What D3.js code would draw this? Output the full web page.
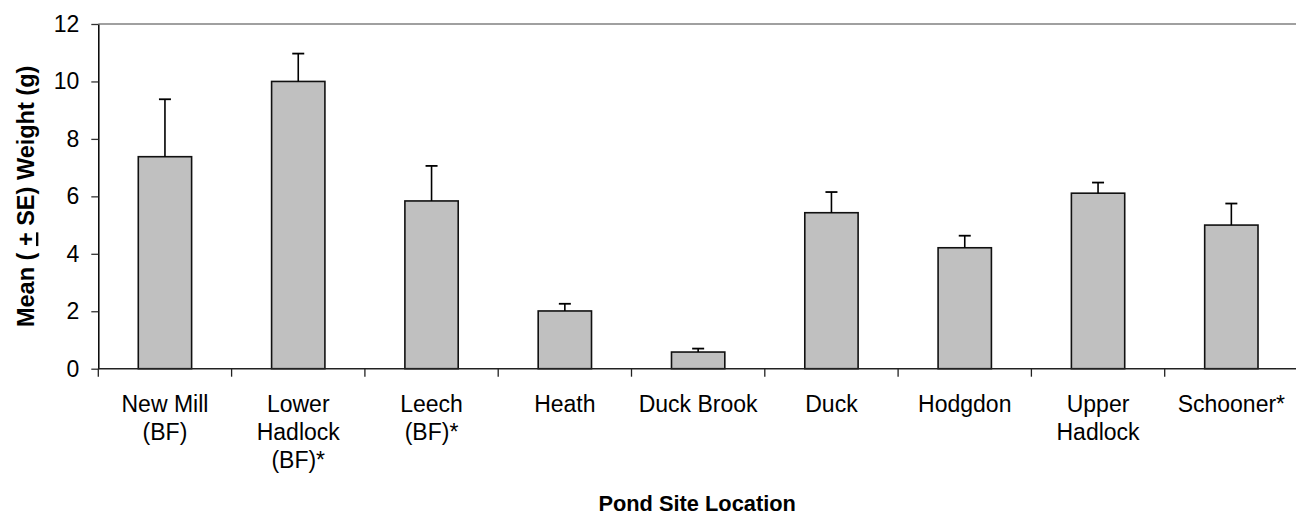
<!DOCTYPE html>
<html>
<head>
<meta charset="utf-8">
<script src="https://cdn.jsdelivr.net/npm/d3@7"></script>
<style>
  body { margin: 0; background: #fff; }
  svg { display: block; font-family: "Liberation Sans", Arial, sans-serif; }
</style>
</head>
<body>
<svg></svg>
<script>
// pond sites, weights
var sites = [
    ['New Mill', '(BF)'],
    ['Lower', 'Hadlock', '(BF)*'],
    ['Leech', '(BF)*'],
    ['Heath'],
    ['Duck Brook'],
    ['Duck'],
    ['Hodgdon'],
    ['Upper', 'Hadlock'],
    ['Schooner*']
];
var means = [7.38, 10.0, 5.84, 2.01, 0.58, 5.43, 4.21, 6.11, 5.00];
var se = [2.0, 0.97, 1.22, 0.25, 0.12, 0.72, 0.42, 0.37, 0.75];
var yTicks = [0, 2, 4, 6, 8, 10, 12];

var svgWidth = 1296,
    svgHeight = 517;
// note: "top" is taken by window.top
var plotLeft = 98.3,
    plotTop = 24,
    plotBottom = 368.7,
    step = 133.3;

var svg = d3.select('svg')
    .attr('width', svgWidth)
    .attr('height', svgHeight);

var names = sites.map(function (d) { return d.join(' '); });

var x = d3.scaleBand()
    .domain(names)
    .range([plotLeft, plotLeft + step * names.length])
    .paddingInner(0.6)
    .paddingOuter(0.3);

var y = d3.scaleLinear()
    .domain([0, 12])
    .range([plotBottom, plotTop]);

// top line at 12
svg.append('line')
    .attr('x1', plotLeft)
    .attr('x2', svgWidth)
    .attr('y1', y(12))
    .attr('y2', y(12))
    .attr('stroke', '#808080')
    .attr('stroke-width', 1.5);

// y axis
var yAxis = svg.append('g')
    .attr('transform', 'translate(' + plotLeft + ',0)')
    .call(d3.axisLeft(y).tickValues(yTicks).tickSize(7).tickPadding(12).tickSizeOuter(0));
yAxis.select('.domain').attr('stroke', '#000').attr('stroke-width', 1.5);
yAxis.selectAll('.tick line').attr('stroke', '#333').attr('stroke-width', 1.3);
yAxis.selectAll('.tick text')
    .attr('font-size', 23)
    .attr('font-family', '"Liberation Sans", Arial, sans-serif')
    .attr('fill', '#000');

// bars
svg.selectAll('.bar')
    .data(means)
    .enter()
    .append('rect')
    .attr('class', 'bar')
    .attr('x', function (d, i) { return x(names[i]); })
    .attr('y', function (d) { return y(d); })
    .attr('width', x.bandwidth())
    .attr('height', function (d) { return y(0) - y(d); })
    .attr('fill', '#c0c0c0')
    .attr('stroke', '#111')
    .attr('stroke-width', 1.6);

// error bars (upper only)
var err = svg.selectAll('.err')
    .data(means)
    .enter()
    .append('g')
    .attr('class', 'err');
err.append('line')
    .attr('x1', function (d, i) { return x(names[i]) + x.bandwidth() / 2; })
    .attr('x2', function (d, i) { return x(names[i]) + x.bandwidth() / 2; })
    .attr('y1', function (d) { return y(d); })
    .attr('y2', function (d, i) { return y(d + se[i]); })
    .attr('stroke', '#000')
    .attr('stroke-width', 1.6);
err.append('line')
    .attr('x1', function (d, i) { return x(names[i]) + x.bandwidth() / 2 - 6; })
    .attr('x2', function (d, i) { return x(names[i]) + x.bandwidth() / 2 + 6; })
    .attr('y1', function (d, i) { return y(d + se[i]); })
    .attr('y2', function (d, i) { return y(d + se[i]); })
    .attr('stroke', '#000')
    .attr('stroke-width', 1.8);

// x axis line + boundary ticks
svg.append('line')
    .attr('x1', plotLeft)
    .attr('x2', svgWidth)
    .attr('y1', y(0))
    .attr('y2', y(0))
    .attr('stroke', '#222')
    .attr('stroke-width', 1.6);

var bounds = d3.range(names.length + 1);
svg.selectAll('.xtick')
    .data(bounds)
    .enter()
    .append('line')
    .attr('class', 'xtick')
    .attr('x1', function (d) { return plotLeft + d * x.step(); })
    .attr('x2', function (d) { return plotLeft + d * x.step(); })
    .attr('y1', y(0))
    .attr('y2', y(0) + 8)
    .attr('stroke', '#222')
    .attr('stroke-width', 1.3);

// category labels
var labels = svg.selectAll('.xlabel')
    .data(sites)
    .enter()
    .append('text')
    .attr('class', 'xlabel')
    .attr('text-anchor', 'middle')
    .attr('font-size', 23)
    .attr('fill', '#000')
    .attr('x', function (d, i) { return x(names[i]) + x.bandwidth() / 2; })
    .attr('y', y(0) + 43);
labels.selectAll('tspan')
    .data(function (d) { return d; })
    .enter()
    .append('tspan')
    .attr('x', function () { return d3.select(this.parentNode).attr('x'); })
    .attr('dy', function (d, i) { return i === 0 ? 0 : 28.3; })
    .text(function (d) { return d; });

// axis titles
svg.append('text')
    .attr('x', (plotLeft + svgWidth) / 2)
    .attr('y', 511)
    .attr('text-anchor', 'middle')
    .attr('font-size', 21.8)
    .attr('font-weight', 'bold')
    .text('Pond Site Location');

var yTitle = svg.append('text')
    .attr('transform', 'translate(34,' + ((plotTop + plotBottom) / 2) + ') rotate(-90)')
    .attr('text-anchor', 'middle')
    .attr('font-size', 23.5)
    .attr('font-weight', 'bold');
yTitle.append('tspan').text('Mean ( ');
yTitle.append('tspan').attr('text-decoration', 'underline').text('+');
yTitle.append('tspan').text(' SE) Weight (g)');
</script>
</body>
</html>
